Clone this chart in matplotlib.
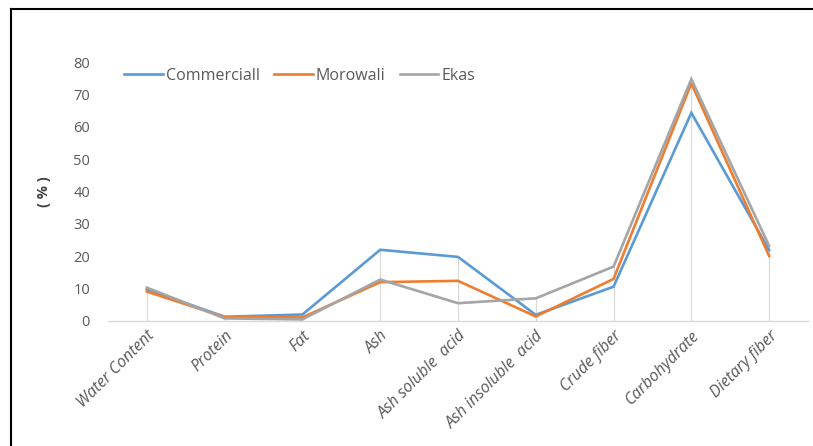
import matplotlib
matplotlib.use("Agg")
import matplotlib.pyplot as plt
from matplotlib.lines import Line2D

# categories and values (%)
categories = ["Water Content", "Protein", "Fat", "Ash", "Ash soluble  acid",
              "Ash insoluble  acid", "Crude fiber", "Carbohydrate", "Dietary fiber"]
commerciall = [9.8, 1.3, 2.0, 22.0, 19.8, 1.9, 10.6, 64.3, 21.9]
morowali = [9.1, 1.2, 1.1, 12.0, 12.4, 1.4, 13.0, 73.4, 20.1]
ekas = [10.3, 0.8, 0.5, 12.8, 5.5, 7.0, 16.8, 74.7, 23.2]
series_names = ["Commerciall", "Morowali", "Ekas"]
series_colors = ["#5B9BD5", "#ED7D31", "#A5A5A5"]

plt.rcParams['font.family'] = ['Open Sans', 'DejaVu Sans']

fig = plt.figure(figsize=(8.13, 4.46), dpi=100)
ax = fig.add_axes([108/813, 1-321/446, 700/813, (321-62)/446])

x = list(range(len(categories)))

# drop lines from the highest point down to the axis
tops = [max(a, b, c) for a, b, c in zip(commerciall, morowali, ekas)]
ax.vlines(x, 0, tops, color="#d9d9d9", lw=0.8, zorder=1)

for vals, name, col in zip([commerciall, morowali, ekas], series_names, series_colors):
    ax.plot(x, vals, color=col, lw=1.9, label=name, zorder=3, solid_joinstyle='miter')

ax.set_xlim(-0.5, len(categories) - 0.5)
ax.set_ylim(0, 80)
ax.set_yticks(range(0, 81, 10))
ax.tick_params(axis='y', length=0, labelsize=10.5, labelcolor="#595959", pad=13)
ax.tick_params(axis='x', length=0, pad=5)
ax.set_xticks(x)
ax.set_xticklabels(categories, rotation=45, ha='right', rotation_mode='anchor',
                   fontstyle='italic', fontsize=11.5, color="#595959")

for s in ["top", "right", "left"]:
    ax.spines[s].set_visible(False)
ax.spines["bottom"].set_color("#d9d9d9")
ax.spines["bottom"].set_linewidth(1.0)

ax.set_ylabel("( % )", fontweight='bold', fontsize=10.5, color="#404040", labelpad=16)

handles = [Line2D([0], [0], color=c, lw=1.9) for c in series_colors]
fig.legend(handles, series_names, loc='center left', bbox_to_anchor=(110/813, 1-76/446),
           ncol=3, frameon=False, fontsize=11.5, handlelength=2.4, handletextpad=0.2,
           columnspacing=0.9, labelcolor="#595959")

# black frame on the left and top edges
fig.add_artist(Line2D([11/813, 11/813], [0, 1-9/446], color="black", lw=1.5, transform=fig.transFigure))
fig.add_artist(Line2D([11/813, 1], [1-9/446, 1-9/446], color="black", lw=1.5, transform=fig.transFigure))

fig.savefig("out.png", dpi=100)
